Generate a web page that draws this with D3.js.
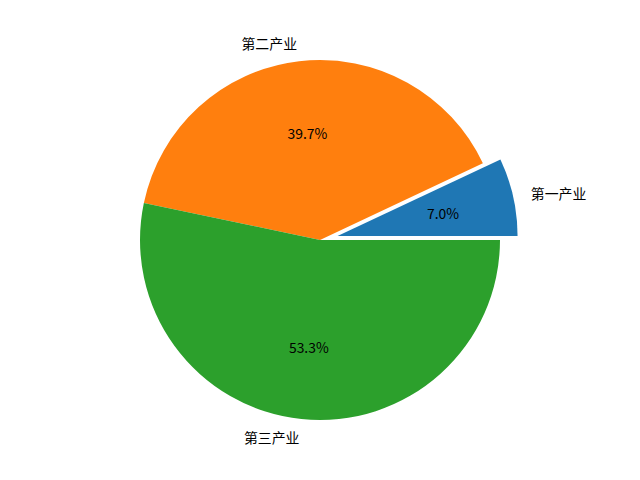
<!DOCTYPE html>
<html>
<head>
<meta charset="utf-8">
<script src="https://cdn.jsdelivr.net/npm/d3@7"></script>
<style>
  body { margin: 0; background: #fff; }
  text { font-family: "Noto Sans CJK SC", "DejaVu Sans", sans-serif; font-size: 13.9px; fill: #000; }
</style>
</head>
<body>
<svg id="chart" width="640" height="480"></svg>
<script>
// Industry shares (%)
const labels = ['第一产业', '第二产业', '第三产业'];
const values = [7.0, 39.7, 53.3];
const explode = [0.1, 0, 0];
const colors = ['#1f77b4', '#ff7f0e', '#2ca02c'];

const width = 640, height = 480;
const cx = 320, cy = 240, radius = 180;
const labelDistance = 1.1, pctDistance = 0.6;

const svg = d3.select('#chart');

// matplotlib style: start at 3 o'clock, go counterclockwise
const pie = d3.pie()
  .sort(null)
  .startAngle(Math.PI / 2)
  .endAngle(Math.PI / 2 - 2 * Math.PI);

const arcs = pie(values);
const arc = d3.arc().innerRadius(0).outerRadius(radius);

const midAngle = d => (d.startAngle + d.endAngle) / 2;
const offset = (d, k) => [Math.sin(midAngle(d)) * k, -Math.cos(midAngle(d)) * k];

let g = svg.append('g')
  .attr('transform', `translate(${cx}, ${cy})`);

let slices = g.selectAll('g.slice')
  .data(arcs)
  .join('g')
  .attr('class', 'slice')
  .attr('transform', (d, i) => {
    let [dx, dy] = offset(d, explode[i] * radius);
    return `translate(${dx}, ${dy})`;
  });

slices.append('path')
  .attr('d', arc)
  .style('fill', (d, i) => colors[i]);

// Category labels outside the pie
slices.append('text')
  .attr('x', d => offset(d, labelDistance * radius)[0])
  .attr('y', d => offset(d, labelDistance * radius)[1])
  .style('text-anchor', d => offset(d, 1)[0] > 0 ? 'start' : 'end')
  .style('dominant-baseline', 'central')
  .text((d, i) => labels[i]);

// Percent labels inside
slices.append('text')
  .attr('x', d => offset(d, pctDistance * radius)[0])
  .attr('y', d => offset(d, pctDistance * radius)[1])
  .style('text-anchor', 'middle')
  .style('dominant-baseline', 'central')
  .text(d => d3.format('.1f')(d.value / d3.sum(values) * 100) + '%');
</script>
</body>
</html>
